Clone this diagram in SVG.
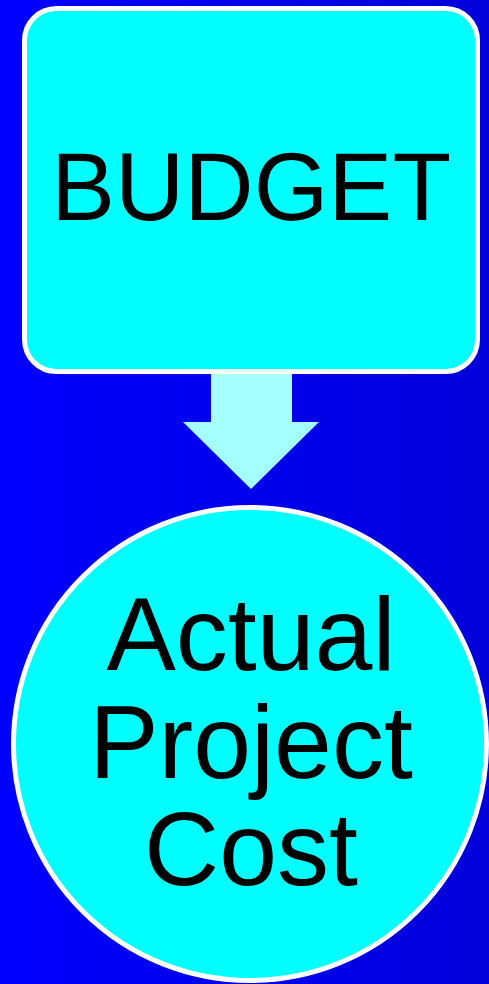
<svg xmlns="http://www.w3.org/2000/svg" width="489" height="984" viewBox="0 0 489 984">
<defs>
<linearGradient id="bg" x1="0" y1="0" x2="1" y2="0">
<stop offset="0" stop-color="#0000FF"/>
<stop offset="1" stop-color="#0000DA"/>
</linearGradient>
<style>
.node{fill:#00FFFF;stroke:#FFFFFF;stroke-width:5}
.lbl{font-family:"Liberation Sans",Arial,sans-serif;fill:#000000;text-anchor:middle}
</style>
</defs>
<rect x="0" y="0" width="489" height="984" fill="url(#bg)"/>
<g id="connectors">
<polygon points="211,372 292,372 292,422 319,422 251,489 183,422 211,422" fill="#A4FFFF"/>
</g>
<g id="budget">
<rect class="node" x="24.5" y="8.5" width="453" height="363" rx="32" ry="32"/>
<text class="lbl" x="251" y="220" font-size="96">BUDGET</text>
</g>
<g id="actual-cost">
<circle class="node" cx="250" cy="744" r="236.5"/>
<text class="lbl" x="251" y="670" font-size="104">Actual</text>
<text class="lbl" x="251" y="778" font-size="104">Project</text>
<text class="lbl" x="251" y="885" font-size="104">Cost</text>
</g>
</svg>
